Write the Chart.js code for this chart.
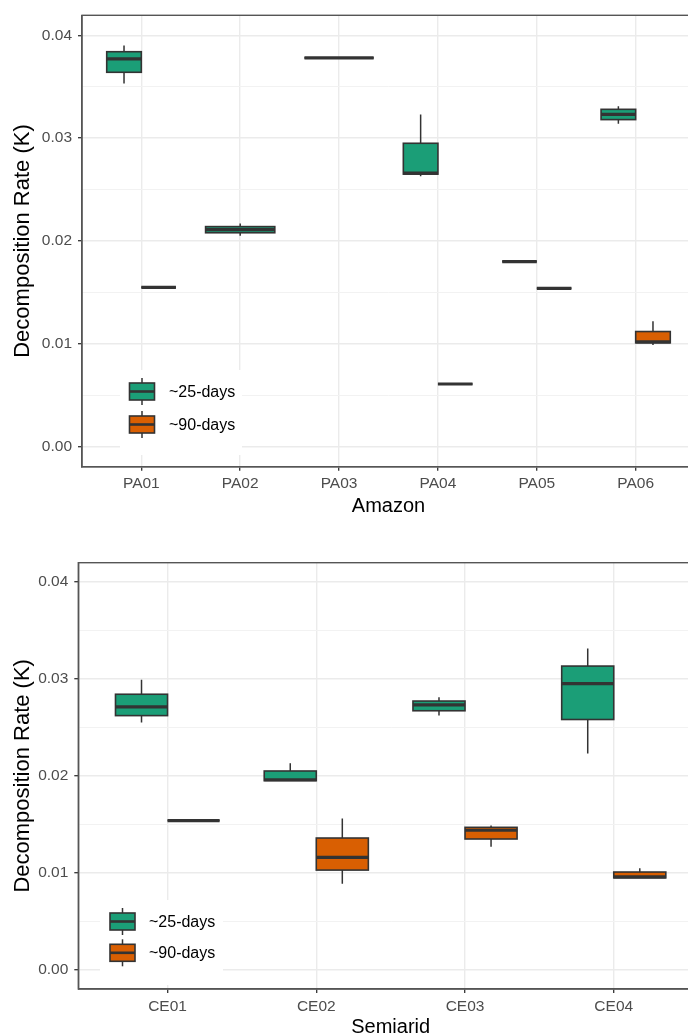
<!DOCTYPE html>
<html>
<head>
<meta charset="utf-8">
<script src="https://cdn.jsdelivr.net/npm/chart.js@4.4.1/dist/chart.umd.min.js"></script>
<style>
  html, body { margin: 0; padding: 0; background: #fff; overflow: hidden; }
  body { width: 688px; height: 1035px; position: relative; }
  canvas { position: absolute; left: 0; }
  #amazon { top: 0; }
  #semiarid { top: 545px; }
</style>
</head>
<body>
<canvas id="amazon" width="700" height="520"></canvas>
<canvas id="semiarid" width="710" height="500"></canvas>
<script>
// Taxa de decomposição (K) por área - cada caixa: [mín, Q1, mediana, Q3, máx]
const amazonSites = ['PA01', 'PA02', 'PA03', 'PA04', 'PA05', 'PA06'];
const amazon25 = [
  [0.0353, 0.0364, 0.0377, 0.0384, 0.0390],
  [0.0205, 0.0208, 0.0211, 0.0214, 0.0217],
  [0.0378, 0.0378, 0.0378, 0.0378, 0.0378],
  [0.0263, 0.0265, 0.0266, 0.0295, 0.0323],
  [0.0180, 0.0180, 0.0180, 0.0180, 0.0180],
  [0.0314, 0.0318, 0.0323, 0.0328, 0.0331]
];
const amazon90 = [
  [0.0155, 0.0155, 0.0155, 0.0155, 0.0155],
  null,
  null,
  [0.0061, 0.0061, 0.0061, 0.0061, 0.0061],
  [0.0154, 0.0154, 0.0154, 0.0154, 0.0154],
  [0.0099, 0.0101, 0.0102, 0.0112, 0.0122]
];

const semiaridSites = ['CE01', 'CE02', 'CE03', 'CE04'];
const semiarid25 = [
  [0.0255, 0.0262, 0.0271, 0.0284, 0.0299],
  [0.0195, 0.0195, 0.0196, 0.0205, 0.0213],
  [0.0262, 0.0267, 0.0273, 0.0277, 0.0281],
  [0.0223, 0.0258, 0.0295, 0.0313, 0.0331]
];
const semiarid90 = [
  [0.0154, 0.0154, 0.0154, 0.0154, 0.0154],
  [0.0089, 0.0103, 0.0116, 0.0136, 0.0156],
  [0.0127, 0.0135, 0.0144, 0.0147, 0.0149],
  [0.0095, 0.0095, 0.0096, 0.0101, 0.0105]
];

const seriesNames = ['~25-days', '~90-days'];
const seriesColors = ['#1b9e77', '#d95f02'];
const yMin = -0.00194;
const yMax = 0.04194;

Chart.defaults.font.family = '"Liberation Sans", Arial, Helvetica, sans-serif';

const isMajor = (v) => Math.round(v * 1000) % 10 === 0;

// Desenha bigodes, contorno e mediana sobre as barras flutuantes (Q1-Q3)
const boxPlotPlugin = {
  id: 'boxplot',
  afterDatasetsDraw(chart, args, opts) {
    const { ctx } = chart;
    const y = chart.scales.y;
    ctx.save();
    ctx.strokeStyle = '#333333';
    chart.data.datasets.forEach((ds, d) => {
      chart.getDatasetMeta(d).data.forEach((bar, i) => {
        const b = ds.stats[i];
        if (!b) return;
        const [mn, q1, md, q3, mx] = b.map(v => y.getPixelForValue(v));
        const left = bar.x - bar.width / 2;
        ctx.lineWidth = 1.5;
        ctx.beginPath();
        ctx.moveTo(bar.x, mx); ctx.lineTo(bar.x, q3);
        ctx.moveTo(bar.x, q1); ctx.lineTo(bar.x, mn);
        ctx.stroke();
        ctx.lineWidth = 1.6;
        ctx.strokeRect(left, q3, bar.width, q1 - q3);
        ctx.lineWidth = 3.2;
        ctx.beginPath();
        ctx.moveTo(left, md); ctx.lineTo(left + bar.width, md);
        ctx.stroke();
      });
    });

    // legenda dentro do painel
    const lg = opts.legend;
    ctx.fillStyle = '#ffffff';
    ctx.fillRect(lg.x, lg.y, lg.w, lg.h);
    seriesNames.forEach((name, s) => {
      const top = lg.keyY + s * lg.gap;
      const kw = 25, kh = 17, cx = lg.keyX + kw / 2;
      ctx.strokeStyle = '#333333';
      ctx.lineWidth = 1.5;
      ctx.beginPath();
      ctx.moveTo(cx, top - 5); ctx.lineTo(cx, top + kh + 5);
      ctx.stroke();
      ctx.fillStyle = seriesColors[s];
      ctx.fillRect(lg.keyX, top, kw, kh);
      ctx.lineWidth = 1.6;
      ctx.strokeRect(lg.keyX, top, kw, kh);
      ctx.lineWidth = 2.6;
      ctx.beginPath();
      ctx.moveTo(lg.keyX, top + kh / 2); ctx.lineTo(lg.keyX + kw, top + kh / 2);
      ctx.stroke();
      ctx.fillStyle = '#000000';
      ctx.font = '16px "Liberation Sans", Arial, sans-serif';
      ctx.textBaseline = 'middle';
      ctx.fillText(name, lg.textX, top + kh / 2 + 1);
    });
    ctx.restore();
  },
  afterDraw(chart) {
    // moldura do painel (theme_bw)
    const { ctx, chartArea: a } = chart;
    ctx.save();
    ctx.strokeStyle = '#555555';
    ctx.lineWidth = 1.4;
    ctx.strokeRect(a.left, a.top, a.right - a.left, a.bottom - a.top);
    ctx.restore();
  }
};

function renderBoxChart(canvasId, sites, series, xTitle, lay) {
  const ctx = document.getElementById(canvasId);
  const datasets = series.map((stats, s) => ({
    label: seriesNames[s],
    data: stats.map((b, i) => ({ x: i, y: b ? [b[1], b[3]] : null })),
    stats: stats,
    backgroundColor: seriesColors[s],
    borderWidth: 0,
    skipNull: true,
    categoryPercentage: 0.7,
    barPercentage: 1
  }));

  return new Chart(ctx, {
    type: 'bar',
    data: { datasets: datasets },
    options: {
      responsive: false,
      animation: false,
      devicePixelRatio: 1,
      layout: { autoPadding: false, padding: { top: lay.top, right: lay.right, left: 0, bottom: 0 } },
      plugins: {
        legend: { display: false },
        tooltip: { enabled: false },
        boxplot: { legend: lay.legend }
      },
      scales: {
        x: {
          type: 'linear',
          min: -0.6,
          max: sites.length - 0.4,
          offset: false,
          grid: { offset: false, color: '#ebebeb', lineWidth: 1.4, tickColor: '#333333', tickLength: 4, tickWidth: 1.3 },
          border: { display: true, color: '#555555', width: 1.4 },
          ticks: {
            stepSize: 1, includeBounds: false, autoSkip: false, maxRotation: 0, padding: 4,
            color: '#4d4d4d', font: { size: 15.5 },
            callback: (v) => sites[v] ?? ''
          },
          title: { display: true, text: xTitle, color: '#000000', font: { size: 20 }, padding: { top: 0, bottom: lay.xTitlePad } },
          afterFit: (s) => { s.height = lay.xHeight; }
        },
        y: {
          min: yMin,
          max: yMax,
          grid: {
            color: (c) => isMajor(c.tick.value) ? '#ebebeb' : '#f2f2f2',
            lineWidth: (c) => isMajor(c.tick.value) ? 1.4 : 1,
            tickColor: (c) => isMajor(c.tick.value) ? '#333333' : 'rgba(0,0,0,0)',
            tickLength: 4,
            tickWidth: 1.3
          },
          border: { display: true, color: '#555555', width: 1.4 },
          ticks: {
            stepSize: 0.005, includeBounds: false, autoSkip: false, padding: 6,
            color: '#4d4d4d', font: { size: 15.5 },
            callback: (v) => isMajor(v) ? v.toFixed(2) : ''
          },
          title: { display: true, text: 'Decomposition Rate (K)', color: '#000000', font: { size: 22 }, padding: { top: 10, bottom: 0 } },
          afterFit: (s) => { s.width = lay.yWidth; }
        }
      }
    },
    plugins: [boxPlotPlugin]
  });
}

renderBoxChart('amazon', amazonSites, [amazon25, amazon90], 'Amazon', {
  top: 13.3, right: 5, yWidth: 82, xHeight: 53.3, xTitlePad: 2,
  legend: { x: 120, y: 370, w: 122, h: 85, keyX: 129.5, keyY: 383, gap: 33, textX: 169 }
});

renderBoxChart('semiarid', semiaridSites, [semiarid25, semiarid90], 'Semiarid', {
  top: 17.7, right: 7, yWidth: 78.3, xHeight: 56, xTitlePad: 6,
  legend: { x: 100, y: 355, w: 123, h: 85, keyX: 110, keyY: 368, gap: 31.3, textX: 149 }
});
</script>
</body>
</html>
